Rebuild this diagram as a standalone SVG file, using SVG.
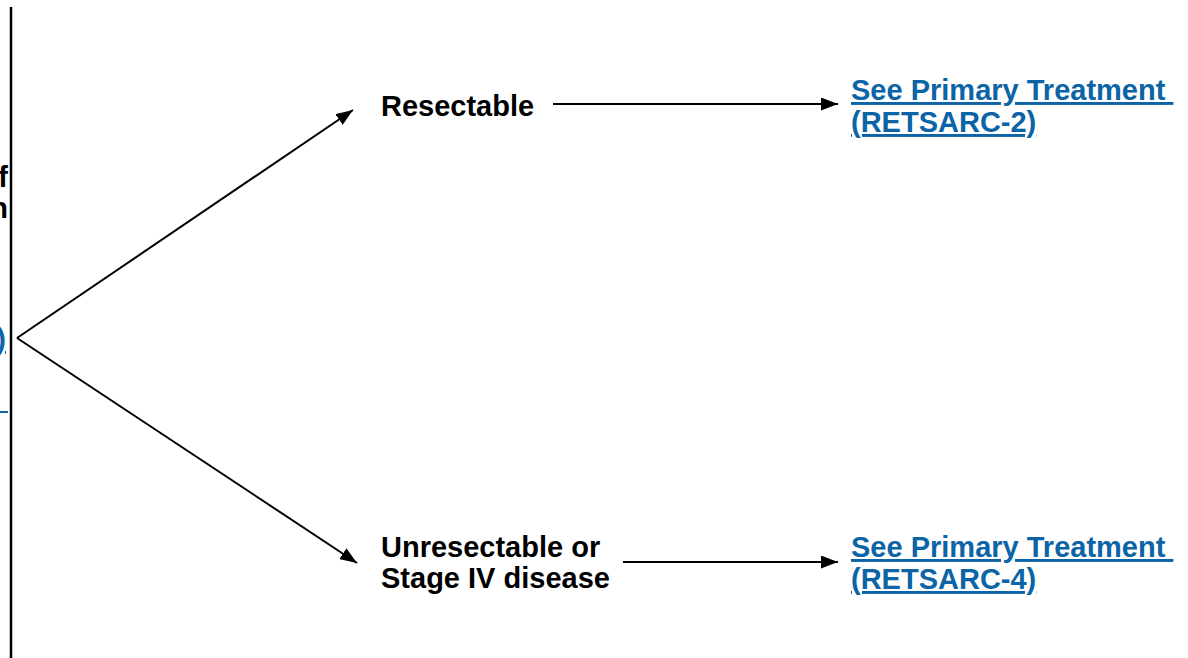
<svg xmlns="http://www.w3.org/2000/svg" width="1188" height="658" viewBox="0 0 1188 658">
<style>
text{font-family:"Liberation Sans",Arial,sans-serif;font-weight:bold;font-size:29px;fill:#000}
.link{fill:#0b64a6;text-decoration:underline;white-space:pre}
.ln{stroke:#000;stroke-width:2;fill:none}
</style>
<defs>
<marker id="ah" viewBox="0 0 17 13" refX="17" refY="6.5" markerWidth="17" markerHeight="13" markerUnits="userSpaceOnUse" orient="auto">
<path d="M0,0 L17,6.5 L0,13 Z" fill="#000"/>
</marker>
</defs>
<rect width="1188" height="658" fill="#fff"/>
<g id="left-edge">
<line x1="11" y1="7" x2="11" y2="658" stroke="#000" stroke-width="2.5"/>
<text x="8" y="187" text-anchor="end">f</text>
<text x="8" y="218" text-anchor="end">n</text>
<text x="6" y="349" text-anchor="end" class="link">)</text>
<line x1="0" y1="412" x2="8" y2="412" stroke="#0b64a6" stroke-width="2"/>
</g>
<g id="connectors">
<line class="ln" x1="17" y1="338" x2="353" y2="110" marker-end="url(#ah)"/>
<line class="ln" x1="17" y1="338" x2="357" y2="563" marker-end="url(#ah)"/>
<line class="ln" x1="553" y1="104" x2="838" y2="104" marker-end="url(#ah)"/>
<line class="ln" x1="623" y1="562" x2="838" y2="562" marker-end="url(#ah)"/>
</g>
<g id="node-resectable">
<text x="381" y="116">Resectable</text>
</g>
<g id="node-unresectable">
<text x="381" y="557">Unresectable or</text>
<text x="381" y="588">Stage IV disease</text>
</g>
<g id="node-retsarc2">
<text x="851" y="100" class="link">See Primary Treatment </text>
<text x="851" y="132" class="link">(RETSARC-2)</text>
</g>
<g id="node-retsarc4">
<text x="851" y="557" class="link">See Primary Treatment </text>
<text x="851" y="589" class="link">(RETSARC-4)</text>
</g>
</svg>
